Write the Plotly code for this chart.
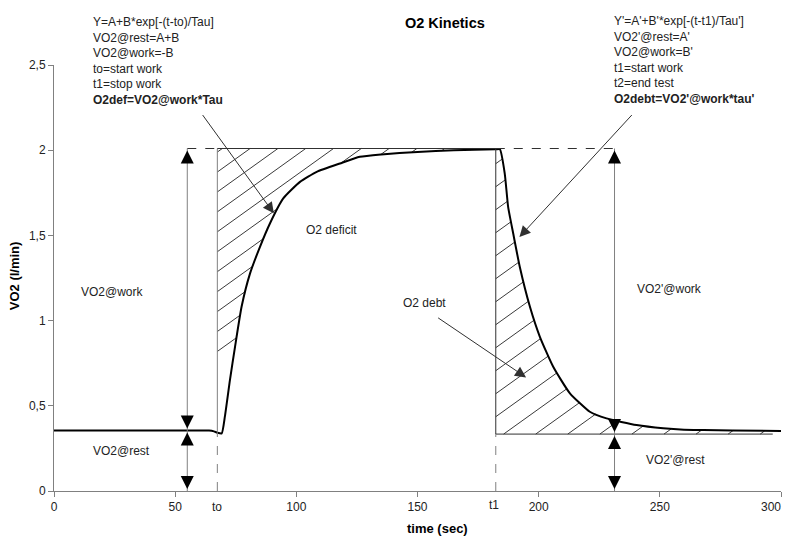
import numpy as np
import plotly.graph_objects as go

# ---------------- data ----------------
time_s = [0, 30, 60, 64, 66, 67.4, 69.2, 70.5, 72.6, 74.7, 77.4, 80.9, 85.0, 89.1,
          94.6, 101.5, 108.4, 118, 126.2, 135, 150, 165, 182.3, 184, 186, 187.4,
          189.5, 192.2, 196.4, 200.5, 206, 212.9, 221.1, 228, 240.4, 251.4, 260,
          268, 280, 300]
vo2 = [0.355, 0.355, 0.355, 0.355, 0.35, 0.342, 0.338, 0.436, 0.651, 0.846, 1.081,
       1.277, 1.433, 1.57, 1.717, 1.814, 1.873, 1.922, 1.961, 1.975, 1.99, 2.0,
       2.005, 2.005, 1.863, 1.668, 1.511, 1.316, 1.081, 0.905, 0.729, 0.573, 0.465,
       0.426, 0.387, 0.368, 0.36, 0.358, 0.355, 0.352]

t0 = 67.4           # start work
t1 = 182.3          # stop work
t_end = 296.6       # end of the debt baseline
vo2_rest = 0.355
vo2_rest_after = 0.334
vo2_work = 2.01
t_arrow_left = 55
t_arrow_right = 231.3

x_ticks = [0, 50, 100, 150, 200, 250, 300]
x_tick_text = ["0", "50", "100", "150", "200", "250", "300"]
y_ticks = [0, 0.5, 1, 1.5, 2, 2.5]
y_tick_text = ["0", "0,5", "1", "1,5", "2", "2,5"]

left_block = ["Y=A+B*exp[-(t-to)/Tau]", "VO2@rest=A+B", "VO2@work=-B",
              "to=start work", "t1=stop work", "<b>O2def=VO2@work*Tau</b>"]
right_block = ["Y'=A'+B'*exp[-(t-t1)/Tau']", "VO2'@rest=A'", "VO2@work=B'",
               "t1=start work", "t2=end test", "<b>O2debt=VO2'@work*tau'</b>"]

FONT = "Liberation Sans, Arial, sans-serif"
TXT = "#222222"
GRAY = "#808080"
DARK = "#303030"

fig = go.Figure()

# ---------------- hatching (computed from the curve) ----------------
tt_all = np.asarray(time_s, float)
vv_all = np.asarray(vo2, float)


def curve(t):
    return np.interp(t, tt_all, vv_all)


def hatch(t_lo, t_hi, lower, upper, y_ref, spacing, slope, k_range):
    tt = np.linspace(t_lo, t_hi, 4000)
    lo = lower(tt)
    hi = upper(tt)
    xs, ys = [], []
    for k in k_range:
        line = y_ref + k * spacing + slope * (tt - t_lo)
        m = (line >= lo) & (line <= hi)
        if not m.any():
            continue
        idx = np.flatnonzero(m)
        breaks = np.flatnonzero(np.diff(idx) > 1)
        starts = np.r_[idx[0], idx[breaks + 1]]
        ends = np.r_[idx[breaks], idx[-1]]
        for s, e in zip(starts, ends):
            if e - s < 2:
                continue
            xs += [tt[s], tt[e], None]
            ys += [line[s], line[e], None]
    return xs, ys


slope = 0.0102
hx1, hy1 = hatch(t0, t1, curve, lambda t: np.full_like(t, vo2_work),
                 1.755, 0.117, slope, range(-8, 4))
hx2, hy2 = hatch(t1, t_end, lambda t: np.full_like(t, vo2_rest_after), curve,
                 0.436, 0.135, slope, range(-12, 14))
fig.add_trace(go.Scatter(x=hx1 + hx2, y=hy1 + hy2, mode="lines",
                         line=dict(color="#3a3a3a", width=1),
                         hoverinfo="skip", showlegend=False))

# ---------------- rectangle / guide lines ----------------
def seg(x0, y0, x1, y1, color=DARK, dash=None, width=1):
    fig.add_shape(type="line", xref="x", yref="y", x0=x0, y0=y0, x1=x1, y1=y1,
                  line=dict(color=color, width=width, dash=dash), layer="above")

seg(t0, curve(t0), t0, vo2_work, color=GRAY)
seg(t0, vo2_work, t1, vo2_work)
seg(t1, vo2_rest_after, t1, vo2_work)
seg(t1, vo2_rest_after, t_end, vo2_rest_after)
seg(t_arrow_left, vo2_work, t0, vo2_work, dash="dash")
seg(t1, vo2_work, t_arrow_right, vo2_work, dash="dash")
seg(t0, 0, t0, curve(t0), color=GRAY, dash="dash")
seg(t1, 0, t1, vo2_rest_after, color=GRAY, dash="dash")
seg(t_arrow_left, 0, t_arrow_left, vo2_work, color=GRAY)
seg(t_arrow_right, 0, t_arrow_right, vo2_work, color=GRAY)

# ---------------- main curve ----------------
fig.add_trace(go.Scatter(x=time_s, y=vo2, mode="lines",
                         line=dict(color="black", width=2, shape="spline", smoothing=0.5),
                         hoverinfo="skip", showlegend=False))

# ---------------- arrow heads ----------------
def head(x, y, up):
    fig.add_annotation(x=x, y=y, xref="x", yref="y", text="", showarrow=True,
                       arrowhead=2, arrowsize=2.6, arrowwidth=1, arrowcolor="black",
                       ax=0, ay=14 if up else -14, standoff=2)

head(t_arrow_left, vo2_work, True)
head(t_arrow_left, vo2_rest, False)
head(t_arrow_left, vo2_rest, True)
head(t_arrow_left, 0, False)
head(t_arrow_right, vo2_work, True)
head(t_arrow_right, vo2_rest_after, False)
head(t_arrow_right, vo2_rest_after, True)
head(t_arrow_right, 0, False)

# pointer arrows (tip, tail)
pointers = [((91.2, 1.62), (60.9, 2.215)),
            ((191.5, 1.482), (239.0, 2.215)),
            ((195.5, 0.66), (157.9, 1.022))]
for (tx, ty), (sx, sy) in pointers:
    fig.add_annotation(x=tx, y=ty, ax=sx, ay=sy, xref="x", yref="y",
                       axref="x", ayref="y", text="", showarrow=True,
                       arrowhead=2, arrowsize=2.2, arrowwidth=1, arrowcolor=DARK,
                       standoff=2)

# ---------------- labels ----------------
labels = [("VO2@work", 24.3, 1.17), ("VO2@rest", 27.9, 0.235),
          ("O2 deficit", 114.5, 1.53), ("O2 debt", 153, 1.103),
          ("VO2'@work", 253.8, 1.183), ("VO2'@rest", 256.5, 0.182)]
for txt, x, y in labels:
    fig.add_annotation(x=x, y=y, xref="x", yref="y", text=txt, showarrow=False,
                       font=dict(family=FONT, size=12, color=TXT))

fig.add_annotation(x=15.1, y=1.121, xref="x", yref="paper", text="<br>".join(left_block),
                   showarrow=False, xanchor="left", yanchor="top", align="left",
                   font=dict(family=FONT, size=12, color=TXT))
fig.add_annotation(x=230.1, y=1.124, xref="x", yref="paper", text="<br>".join(right_block),
                   showarrow=False, xanchor="left", yanchor="top", align="left",
                   font=dict(family=FONT, size=12, color=TXT))

fig.add_annotation(x=t0, y=0, xref="x", yref="y", text="to", showarrow=False,
                   yshift=-16, font=dict(family=FONT, size=12, color=TXT))
fig.add_annotation(x=t1, y=0, xref="x", yref="y", text="t1", showarrow=False,
                   yshift=-14, xshift=-2, font=dict(family=FONT, size=12, color=TXT))

# last x tick label sits at the right edge of the page: right-align it there
fig.add_annotation(x=x_ticks[-1], y=0, xref="x", yref="y", text=x_tick_text[-1],
                   showarrow=False, xanchor="right", yanchor="top", xshift=1,
                   yshift=-8, borderpad=0,
                   font=dict(family=FONT, size=12, color=TXT))

fig.add_annotation(x=0.5385, y=1.0993, xref="paper", yref="paper",
                   text="<b>O2 Kinetics</b>", showarrow=False,
                   xanchor="center", yanchor="middle",
                   font=dict(family=FONT, size=14.5, color="black"))
fig.add_annotation(x=-0.0545, y=0.505, xref="paper", yref="paper",
                   text="<b>VO2 (l/min)</b>", textangle=-90, showarrow=False,
                   xanchor="center", yanchor="middle", borderpad=0,
                   font=dict(family=FONT, size=13, color="black"))
fig.add_annotation(x=0.528, y=-0.0869, xref="paper", yref="paper",
                   text="<b>time (sec)</b>", showarrow=False,
                   xanchor="center", yanchor="middle",
                   font=dict(family=FONT, size=13, color="black"))

# page body has an 8px margin, so the figure is 8px smaller and margins shifted
fig.update_layout(
    width=782, height=529,
    margin=dict(l=46, r=9, t=57, b=46, autoexpand=False),
    paper_bgcolor="white", plot_bgcolor="white",
    showlegend=False,
    font=dict(family=FONT, size=12, color=TXT),
    xaxis=dict(range=[0, 300], tickvals=x_ticks,
               ticktext=x_tick_text[:-1] + [""], showgrid=False, zeroline=False,
               showline=True, linecolor=GRAY, linewidth=1, ticks="outside",
               ticklen=5, tickcolor=GRAY, automargin=False,
               tickfont=dict(family=FONT, size=12, color=TXT)),
    yaxis=dict(range=[0, 2.5], tickvals=y_ticks, ticktext=y_tick_text, showgrid=False,
               zeroline=False, showline=True, linecolor=GRAY, linewidth=1,
               ticks="outside", ticklen=5, tickcolor=GRAY, automargin=False,
               tickfont=dict(family=FONT, size=12, color=TXT)),
)

fig.write_html("out.html")
